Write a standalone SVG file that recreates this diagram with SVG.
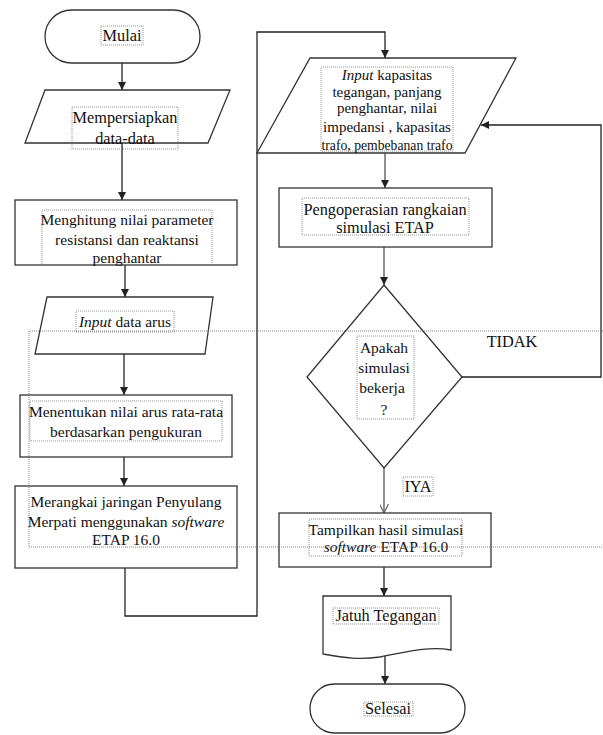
<svg xmlns="http://www.w3.org/2000/svg" width="603" height="735" viewBox="0 0 603 735" font-family="'Liberation Serif', 'Times New Roman', 'DejaVu Serif', serif">
<defs>
<marker id="ah" viewBox="0 0 10 10" refX="10" refY="5" markerWidth="8" markerHeight="8" markerUnits="userSpaceOnUse" orient="auto">
<path d="M0,0 L10,5 L0,10 Z" fill="#222"/>
</marker>
<marker id="av" viewBox="0 0 10 10" refX="10" refY="5" markerWidth="9" markerHeight="9" markerUnits="userSpaceOnUse" orient="auto">
<path d="M0,0 L10,5 L0,10" fill="none" stroke="#555" stroke-width="1.2"/>
</marker>
<style>
.sh{fill:#fff;stroke:#333;stroke-width:1.3}
.tb{fill:none;stroke:#777;stroke-width:0.8;stroke-dasharray:1,1}
.cn{fill:none;stroke:#222;stroke-width:1.3}
.cg{fill:none;stroke:#555;stroke-width:1.3}
.dt{fill:none;stroke:#666;stroke-width:0.8;stroke-dasharray:1,1}
.t{font-family:'Liberation Serif','Times New Roman',serif;font-size:15.5px;fill:#111;text-anchor:middle}
.lg{font-size:16.3px}
.sm{font-size:15px}
.it{font-style:italic}
</style>
</defs>
<rect width="603" height="735" fill="#fff"/>

<g id="connectors">
<line class="cn" x1="122" y1="63" x2="122" y2="90" marker-end="url(#ah)"/>
<line class="cn" x1="122" y1="143" x2="122" y2="200" marker-end="url(#ah)"/>
<line class="cn" x1="125" y1="265" x2="125" y2="297" marker-end="url(#ah)"/>
<line class="cn" x1="124" y1="354" x2="124" y2="395" marker-end="url(#ah)"/>
<line class="cn" x1="124" y1="457" x2="124" y2="486" marker-end="url(#ah)"/>
<polyline class="cn" points="125,568 125,616 257,616 257,32 385,32 385,58" marker-end="url(#ah)"/>
<line class="cg" x1="385" y1="153" x2="385" y2="188" marker-end="url(#ah)"/>
<line class="cg" x1="384" y1="247" x2="384" y2="285" marker-end="url(#ah)"/>
<polyline class="cn" points="462,377 601,377 601,125 481,125" marker-end="url(#ah)"/>
<line class="cg" x1="384" y1="468" x2="384" y2="513" marker-end="url(#av)"/>
<line class="cn" x1="384" y1="567" x2="384" y2="596" marker-end="url(#ah)"/>
<line class="cn" x1="385" y1="655" x2="385" y2="684" marker-end="url(#ah)"/>
</g>

<g id="mulai">
<rect class="sh" x="45" y="10" width="155" height="53" rx="26.5"/>
<rect class="tb" x="101" y="26" width="42" height="19"/>
<text class="t lg" x="122" y="41">Mulai</text>
</g>

<g id="mempersiapkan">
<polygon class="sh" points="45,90 230,90 208,143 25,143"/>
<rect class="tb" x="72" y="107" width="106" height="42"/>
<text class="t lg" x="125" y="123">Mempersiapkan</text>
<text class="t lg" x="125" y="144">data-data</text>
</g>

<g id="menghitung">
<rect class="sh" x="15" y="200" width="222" height="65"/>
<rect class="tb" x="42" y="210" width="170" height="55"/>
<text class="t" x="127" y="225">Menghitung nilai parameter</text>
<text class="t" x="127" y="245">resistansi dan reaktansi</text>
<text class="t" x="127" y="263">penghantar</text>
</g>

<g id="input-arus">
<polygon class="sh" points="47,297 213,297 205,354 35,354"/>
<rect class="tb" x="76" y="311" width="98" height="21"/>
<text class="t" x="125" y="327"><tspan class="it">Input</tspan> data arus</text>
</g>

<g id="menentukan">
<rect class="sh" x="20" y="395" width="212" height="62"/>
<rect class="tb" x="30" y="401" width="192" height="40"/>
<text class="t" x="126" y="417">Menentukan nilai arus rata-rata</text>
<text class="t" x="126" y="437">berdasarkan pengukuran</text>
</g>

<g id="merangkai">
<rect class="sh" x="15" y="486" width="222" height="82"/>
<text class="t" x="126" y="507">Merangkai jaringan Penyulang</text>
<text class="t" x="126" y="527">Merpati menggunakan <tspan class="it">software</tspan></text>
<text class="t" x="126" y="545">ETAP 16.0</text>
</g>

<g id="input-kapasitas">
<polygon class="sh" points="310,58 516,58 465,153 257,153"/>
<rect class="tb" x="321" y="67" width="132" height="84"/>
<text class="t sm" x="387" y="80"><tspan class="it">Input</tspan> kapasitas</text>
<text class="t sm" x="387" y="97">tegangan, panjang</text>
<text class="t sm" x="387" y="113">penghantar, nilai</text>
<text class="t sm" x="387" y="132">impedansi , kapasitas</text>
<text class="t sm" x="387" y="150" textLength="131" lengthAdjust="spacingAndGlyphs">trafo, pembebanan trafo</text>
</g>

<g id="pengoperasian">
<rect class="sh" x="279" y="188" width="213" height="59"/>
<rect class="tb" x="302" y="198" width="167" height="37"/>
<text class="t lg" x="385" y="215">Pengoperasian rangkaian</text>
<text class="t lg" x="385" y="233">simulasi ETAP</text>
</g>

<g id="keputusan">
<polygon class="sh" points="384,285 462,377 384,468 307,377"/>
<rect class="tb" x="357" y="336" width="57" height="83"/>
<text class="t" x="384" y="353">Apakah</text>
<text class="t" x="384" y="373">simulasi</text>
<text class="t" x="382" y="393">bekerja</text>
<text class="t" x="384" y="415">?</text>
</g>

<g id="label-tidak">
<text class="t lg" x="512" y="347">TIDAK</text>
</g>

<g id="label-iya">
<rect class="tb" x="403" y="477" width="30" height="19"/>
<text class="t lg" x="418" y="492">IYA</text>
</g>

<g id="tampilkan">
<rect class="sh" x="279" y="513" width="212" height="54"/>
<rect class="tb" x="309" y="519" width="153" height="37"/>
<text class="t" x="386" y="535">Tampilkan hasil simulasi</text>
<text class="t" x="386" y="552"><tspan class="it">software</tspan> ETAP 16.0</text>
</g>

<g id="jatuh-tegangan">
<path class="sh" d="M323,596 H451 V650 C430,646 410,651 380,657 C360,660 345,658 323,654 Z"/>
<rect class="tb" x="333" y="608" width="106" height="16"/>
<text class="t lg" x="386" y="621">Jatuh Tegangan</text>
</g>

<g id="selesai">
<rect class="sh" x="310" y="684" width="155" height="49" rx="24.5"/>
<rect class="tb" x="364" y="702" width="49" height="14"/>
<text class="t lg" x="388" y="714">Selesai</text>
</g>

<g id="dotted-frame">
<path class="dt" d="M603,331 H29 V547 H603"/>
</g>
</svg>
